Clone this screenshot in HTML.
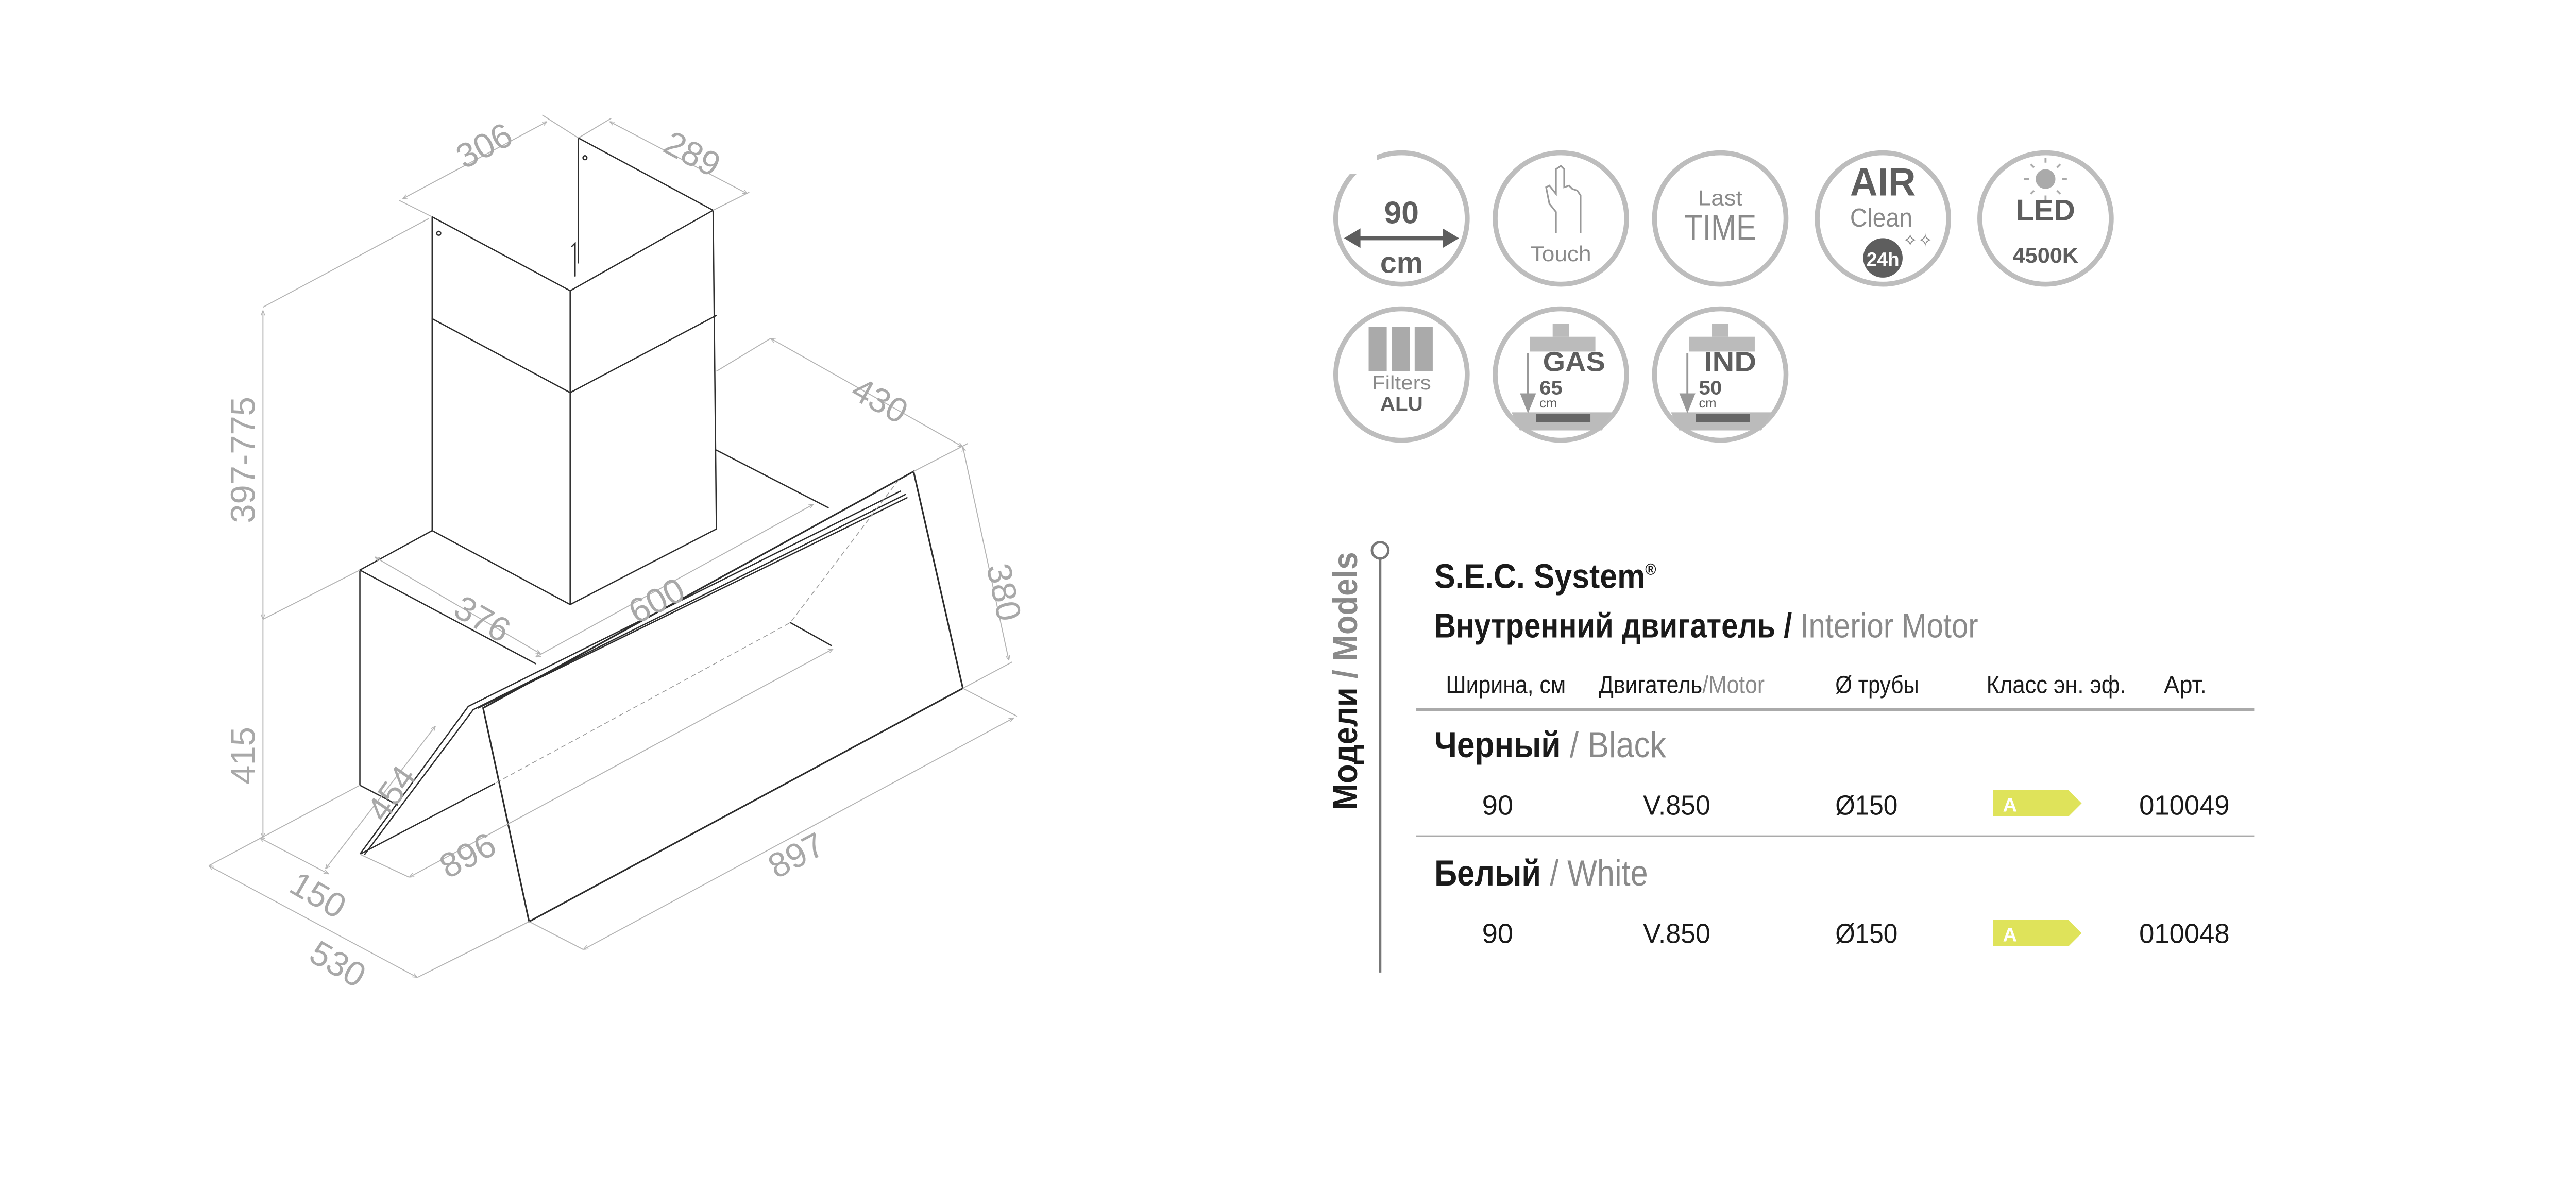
<!DOCTYPE html>
<html><head><meta charset="utf-8"><style>
html,body{margin:0;padding:0;background:#fff;}
svg{display:block;}
.d{stroke:#2e2e2e;stroke-width:0.8;fill:none;stroke-linecap:round;}
.g{stroke:#b4b4b4;stroke-width:0.6;fill:none;}
.t{font-family:"Liberation Sans",sans-serif;fill:#a8a8a8;font-size:21px;}
.c{stroke:#bdbdbd;stroke-width:3;fill:#fff;}
</style></head><body>
<svg width="5160" height="2312" viewBox="0 0 1618 725" xmlns="http://www.w3.org/2000/svg">
<defs><marker id="a" viewBox="0 0 10 10" refX="10" refY="5" markerWidth="5" markerHeight="5" orient="auto-start-reverse"><path d="M0,1 L10,5 L0,9" fill="none" stroke="#b4b4b4" stroke-width="1.5"/></marker></defs>
<g class="d">
<path d="M352,84 L352,160 M352,84 L434,128 M263,132 L347,177 L434,128"/>
<path d="M263,132 L263,323 M347,177 L347,368 M434,128 L436,322"/>
<path d="M263,194 L347,239 L436,192"/>
<path d="M263,323 L347,368 L436,322"/>
<circle cx="267" cy="142" r="1.2"/><circle cx="356" cy="96" r="1.2"/><path d="M348,150 L350,148 L350,168"/>
<path d="M219,347 L263,323 M219,347 L326,404 M219,347 L219,478 L242,490"/>
<path d="M436,274 L504,309"/>
<path d="M285,430 L548,299 M288,432 L551,301 M291,431 L552,303"/>
<path d="M294,431 L556,287 L586,419 L322,561 Z" stroke-width="1"/>
<path d="M285,430 L219,520 L301,477 M288,432 L222,520"/>
<path d="M481,379 L506,393"/>
</g>
<path d="M547,292 L481,379 L301,477" stroke="#999" stroke-width="0.5" stroke-dasharray="3,2" fill="none"/>
<g class="g">
<path d="M245,121 L333,74" marker-start="url(#a)" marker-end="url(#a)"/>
<path d="M243,122 L263,132 M330,70 L352,84"/>
<path d="M371,74 L455,118" marker-start="url(#a)" marker-end="url(#a)"/>
<path d="M352,84 L372,72 M434,128 L456,117"/>
<path d="M160,189 L160,377" marker-start="url(#a)" marker-end="url(#a)"/>
<path d="M160,377 L160,510" marker-end="url(#a)"/>
<path d="M160,187 L261,133 M160,377 L219,347"/>
<path d="M469,206 L586,272" marker-start="url(#a)" marker-end="url(#a)"/>
<path d="M436,226 L469,206 M556,287 L589,270"/>
<path d="M586,272 L614,402" marker-start="url(#a)" marker-end="url(#a)"/>
<path d="M586,419 L616,403"/>
<path d="M326,400 L495,307" marker-start="url(#a)" marker-end="url(#a)"/>
<path d="M228,339 L329,398" marker-start="url(#a)" marker-end="url(#a)"/>
<path d="M265,442 L198,529" marker-start="url(#a)" marker-end="url(#a)"/>
<path d="M249,534 L507,395" marker-start="url(#a)" marker-end="url(#a)"/>
<path d="M219,520 L249,534"/>
<path d="M355,578 L617,437" marker-start="url(#a)" marker-end="url(#a)"/>
<path d="M322,561 L355,578 M586,419 L619,436"/>
<path d="M158,510 L200,532" marker-start="url(#a)" marker-end="url(#a)"/>
<path d="M127,527 L254,595" marker-start="url(#a)" marker-end="url(#a)"/>
<path d="M127,527 L219,478 M254,595 L322,561"/>
</g>
<g class="t">
<text transform="translate(298,95) rotate(-28)" text-anchor="middle">306</text>
<text transform="translate(418,100) rotate(28)" text-anchor="middle">289</text>
<text transform="translate(155,280) rotate(-90)" text-anchor="middle">397-775</text>
<text transform="translate(155,460) rotate(-90)" text-anchor="middle">415</text>
<text transform="translate(532,250) rotate(29)" text-anchor="middle">430</text>
<text transform="translate(604,362) rotate(78)" text-anchor="middle">380</text>
<text transform="translate(403,372) rotate(-28)" text-anchor="middle">600</text>
<text transform="translate(290,383) rotate(30)" text-anchor="middle">376</text>
<text transform="translate(244,487) rotate(-55)" text-anchor="middle">454</text>
<text transform="translate(288,527) rotate(-28)" text-anchor="middle">896</text>
<text transform="translate(488,527) rotate(-28)" text-anchor="middle">897</text>
<text transform="translate(190,551) rotate(30)" text-anchor="middle">150</text>
<text transform="translate(202,593) rotate(30)" text-anchor="middle">530</text>
</g>
<g>
<ellipse class="c" cx="853" cy="133" rx="40" ry="40"/>
<ellipse class="c" cx="950" cy="133" rx="40" ry="40"/>
<ellipse class="c" cx="1047" cy="133" rx="40" ry="40"/>
<ellipse class="c" cx="1146" cy="133" rx="40" ry="40"/>
<ellipse class="c" cx="1245" cy="133" rx="40" ry="40"/>
<ellipse class="c" cx="853" cy="228" rx="40" ry="40"/>
<ellipse class="c" cx="950" cy="228" rx="40" ry="40"/>
<ellipse class="c" cx="1047" cy="228" rx="40" ry="40"/>
<rect x="820" y="92" width="18" height="14" fill="#fff"/>
</g>
<path d="M947,142 L947,129 L943,124 L941,114 L943,113 L947,118 L947,103 L950,101 L952,103 L952,114 L955,113 L957,115 L960,116 L962,119 L962,142" fill="none" stroke="#999" stroke-width="1"/>
<g font-family="Liberation Sans, sans-serif" font-weight="bold" fill="#5e5e5e" text-anchor="middle">
<text x="853" y="136" font-size="19">90</text>
<path d="M822,145 L884,145" stroke="#5e5e5e" stroke-width="2.5"/><path d="M818,145 L828,139 L828,151Z M888,145 L878,139 L878,151Z" fill="#5e5e5e"/>
<text x="853" y="166" font-size="18">cm</text>
<text x="1146" y="119" font-size="24" textLength="40" lengthAdjust="spacingAndGlyphs">AIR</text>
<text x="1245" y="134" font-size="18" textLength="36" lengthAdjust="spacingAndGlyphs">LED</text>
<text x="1245" y="160" font-size="13" textLength="40" lengthAdjust="spacingAndGlyphs">4500K</text>
<text x="853" y="250" font-size="12" textLength="26" lengthAdjust="spacingAndGlyphs">ALU</text>
<text x="958" y="226" font-size="17" textLength="38" lengthAdjust="spacingAndGlyphs">GAS</text>
<text x="1053" y="226" font-size="17" textLength="32" lengthAdjust="spacingAndGlyphs">IND</text>
</g>
<g font-family="Liberation Sans, sans-serif" fill="#8a8a8a" text-anchor="middle">
<text x="950" y="159" font-size="13" textLength="37" lengthAdjust="spacingAndGlyphs">Touch</text>
<text x="1047" y="125" font-size="13" textLength="27" lengthAdjust="spacingAndGlyphs">Last</text>
<text x="1047" y="146" font-size="22" textLength="44" lengthAdjust="spacingAndGlyphs">TIME</text>
<text x="1145" y="138" font-size="16" textLength="38" lengthAdjust="spacingAndGlyphs">Clean</text>
<text x="853" y="237" font-size="12" textLength="36" lengthAdjust="spacingAndGlyphs">Filters</text>
</g>
<circle cx="1146" cy="157" r="12" fill="#5e5e5e"/><text x="1146" y="162" font-family="Liberation Sans,sans-serif" font-weight="bold" font-size="12" fill="#fff" text-anchor="middle" textLength="20" lengthAdjust="spacingAndGlyphs">24h</text>
<text x="1158" y="150" font-size="11" fill="#888">✧✧</text>
<circle cx="1245" cy="109" r="6" fill="#aaa"/>
<g stroke="#aaa" stroke-width="1.2"><path d="M1245,99v-3M1245,119v3M1235,109h-3M1255,109h3M1238,102l-2,-2M1252,102l2,-2M1238,116l-2,2M1252,116l2,2"/></g>
<rect x="833" y="199" width="11" height="27" fill="#aaa"/><rect x="847" y="199" width="11" height="27" fill="#aaa"/><rect x="861" y="199" width="11" height="27" fill="#aaa"/>
<g fill="#bbb"><rect x="945" y="197" width="10" height="8"/><rect x="931" y="205" width="40" height="9"/><path d="M920,251 L981,251 L975,262 L925,262Z"/>
<rect x="1042" y="197" width="10" height="8"/><rect x="1028" y="205" width="40" height="9"/><path d="M1017,251 L1078,251 L1072,262 L1022,262Z"/></g>
<rect x="935" y="252" width="33" height="5" fill="#666"/><rect x="1032" y="252" width="33" height="5" fill="#666"/>
<g stroke="#999" stroke-width="1.2" fill="#999"><path d="M930,215 L930,244"/><path d="M926,240 L930,250 L934,240Z"/><path d="M1027,215 L1027,244"/><path d="M1023,240 L1027,250 L1031,240Z"/></g>
<g font-family="Liberation Sans, sans-serif" font-weight="bold" fill="#5e5e5e">
<text x="937" y="240" font-size="12" textLength="14" lengthAdjust="spacingAndGlyphs">65</text><text x="937" y="248" font-size="8" font-weight="normal">cm</text>
<text x="1034" y="240" font-size="12" textLength="14" lengthAdjust="spacingAndGlyphs">50</text><text x="1034" y="248" font-size="8" font-weight="normal">cm</text>
</g>
<path d="M840,340 L840,592" stroke="#777" stroke-width="1.5"/>
<circle cx="840" cy="335" r="5" fill="#fff" stroke="#777" stroke-width="1.5"/>
<text transform="translate(826,493) rotate(-90)" font-family="Liberation Sans,sans-serif" font-weight="bold" font-size="21" fill="#1a1a1a" textLength="157" lengthAdjust="spacingAndGlyphs">Модели <tspan fill="#8a8a8a">/ Models</tspan></text>
<g font-family="Liberation Sans, sans-serif" fill="#1a1a1a">
<text x="873" y="358" font-size="21" font-weight="bold" textLength="135" lengthAdjust="spacingAndGlyphs">S.E.C. System<tspan font-size="10" dy="-8">®</tspan></text>
<text x="873" y="388" font-size="21" font-weight="bold" textLength="331" lengthAdjust="spacingAndGlyphs">Внутренний двигатель / <tspan fill="#8a8a8a" font-weight="normal">Interior Motor</tspan></text>
<g font-size="15">
<text x="880" y="422" textLength="73" lengthAdjust="spacingAndGlyphs">Ширина, см</text>
<text x="973" y="422" textLength="101" lengthAdjust="spacingAndGlyphs">Двигатель<tspan fill="#8a8a8a">/Motor</tspan></text>
<text x="1117" y="422" textLength="51" lengthAdjust="spacingAndGlyphs">Ø трубы</text>
<text x="1209" y="422" textLength="85" lengthAdjust="spacingAndGlyphs">Класс эн. эф.</text>
<text x="1317" y="422" textLength="26" lengthAdjust="spacingAndGlyphs">Арт.</text>
</g>
<text x="873" y="461" font-size="22" font-weight="bold" textLength="141" lengthAdjust="spacingAndGlyphs">Черный <tspan fill="#8a8a8a" font-weight="normal">/ Black</tspan></text>
<text x="873" y="539" font-size="22" font-weight="bold" textLength="130" lengthAdjust="spacingAndGlyphs">Белый <tspan fill="#8a8a8a" font-weight="normal">/ White</tspan></text>
<g font-size="17">
<text x="902" y="496" textLength="19" lengthAdjust="spacingAndGlyphs">90</text><text x="1000" y="496" textLength="41" lengthAdjust="spacingAndGlyphs">V.850</text><text x="1117" y="496" textLength="38" lengthAdjust="spacingAndGlyphs">Ø150</text><text x="1302" y="496" textLength="55" lengthAdjust="spacingAndGlyphs">010049</text>
<text x="902" y="574" textLength="19" lengthAdjust="spacingAndGlyphs">90</text><text x="1000" y="574" textLength="41" lengthAdjust="spacingAndGlyphs">V.850</text><text x="1117" y="574" textLength="38" lengthAdjust="spacingAndGlyphs">Ø150</text><text x="1302" y="574" textLength="55" lengthAdjust="spacingAndGlyphs">010048</text>
</g>
</g>
<path d="M862,432 L1372,432" stroke="#aaa" stroke-width="2"/>
<path d="M862,509 L1372,509" stroke="#aaa" stroke-width="1"/>
<path d="M1213,481 L1259,481 L1267,489 L1259,497 L1213,497Z" fill="#dfe35a"/>
<path d="M1213,560 L1259,560 L1267,568 L1259,576 L1213,576Z" fill="#dfe35a"/>
<text x="1219" y="494" font-family="Liberation Sans,sans-serif" font-weight="bold" font-size="12" fill="#fff">A</text>
<text x="1219" y="573" font-family="Liberation Sans,sans-serif" font-weight="bold" font-size="12" fill="#fff">A</text>
</svg>
</body></html>
